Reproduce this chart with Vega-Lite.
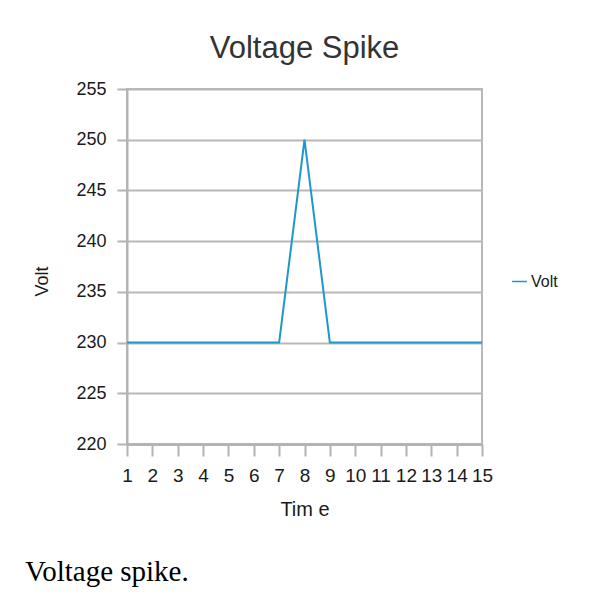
{
  "$schema": "https://vega.github.io/schema/vega-lite/v6.json",
  "background": "white",
  "padding": {"left": 24, "top": 32, "right": 10, "bottom": 10},
  "title": {"text": "Voltage spike.", "orient": "bottom", "anchor": "start", "frame": "bounds", "font": "Liberation Serif", "fontSize": 29, "fontWeight": "normal", "color": "#000000", "offset": 38, "dx": -8},
  "config": {
    "view": {"stroke": "#b8b8b8", "strokeWidth": 2},
    "font": "Liberation Sans, Arial"
  },
  "vconcat": [
    {
      "width": 355,
      "height": 355,
      "title": {"text": "Voltage Spike", "font": "Liberation Sans", "fontSize": 31, "fontWeight": "normal", "color": "#333333", "offset": 15},
      "data": {"values": [
        {"time": 1, "volt": 230}, {"time": 2, "volt": 230}, {"time": 3, "volt": 230},
        {"time": 4, "volt": 230}, {"time": 5, "volt": 230}, {"time": 6, "volt": 230},
        {"time": 7, "volt": 230}, {"time": 8, "volt": 250}, {"time": 9, "volt": 230},
        {"time": 10, "volt": 230}, {"time": 11, "volt": 230}, {"time": 12, "volt": 230},
        {"time": 13, "volt": 230}, {"time": 14, "volt": 230}, {"time": 15, "volt": 230}
      ]},
      "mark": {"type": "line", "strokeWidth": 2},
      "encoding": {
        "x": {
          "field": "time", "type": "quantitative",
          "scale": {"domain": [1, 15], "nice": false, "zero": false},
          "axis": {
            "values": [1, 2, 3, 4, 5, 6, 7, 8, 9, 10, 11, 12, 13, 14, 15],
            "title": "Tim e", "grid": false,
            "domainColor": "#b3b3b3", "domainWidth": 3,
            "tickColor": "#b3b3b3", "tickWidth": 2, "tickSize": 12,
            "labelFontSize": 19, "labelColor": "#1a1a1a", "labelPadding": 10,
            "labelFlush": false, "labelOverlap": false,
            "titleFontSize": 20, "titleFontWeight": "normal", "titleColor": "#1a1a1a",
            "titlePadding": 14
          }
        },
        "y": {
          "field": "volt", "type": "quantitative",
          "scale": {"domain": [220, 255], "nice": false, "zero": false},
          "axis": {
            "values": [220, 225, 230, 235, 240, 245, 250, 255],
            "title": "Volt", "grid": true,
            "gridColor": "#b8b8b8", "gridWidth": 2,
            "domainColor": "#b3b3b3", "domainWidth": 2,
            "tickColor": "#b3b3b3", "tickWidth": 2, "tickSize": 10,
            "labelFontSize": 18, "labelColor": "#1a1a1a", "labelPadding": 11,
            "labelFlush": false,
            "titleFontSize": 18, "titleFontWeight": "normal", "titleColor": "#1a1a1a",
            "titlePadding": 24,
            "titleY": 192
          }
        },
        "color": {
          "datum": "Volt",
          "scale": {"range": ["#1e98cc"]},
          "legend": {
            "title": null, "orient": "none", "legendX": 384, "legendY": 184,
            "symbolType": "stroke", "symbolSize": 220, "symbolStrokeWidth": 1.5,
            "labelFontSize": 16, "labelColor": "#1a1a1a", "labelOffset": 3
          }
        }
      }
    }
  ]
}
